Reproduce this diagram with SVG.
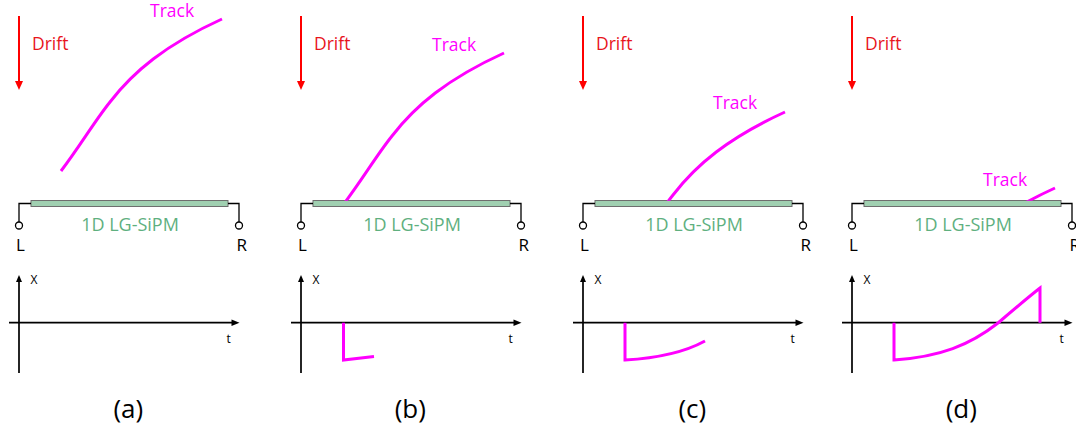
<svg xmlns="http://www.w3.org/2000/svg" width="1076" height="430" viewBox="0 0 1076 430">
<style>
text{font-family:"Open Sans","Liberation Sans",sans-serif}
.dl{stroke:#ff0000;stroke-width:2;fill:none}
.dh{fill:#ff0000}
.dt{font-size:17.5px;fill:#e8141b}
.tt{font-size:17.5px;fill:#ff00ff}
.bar{fill:#a0d0b1;stroke:#6e6e6e;stroke-width:1}
.wire{fill:none;stroke:#000;stroke-width:1.3}
.term{fill:#fff;stroke:#000;stroke-width:1.3}
.sipm{font-size:18px;fill:#5fb07f;text-anchor:middle}
.lr{font-size:17px;fill:#000}
.ax{stroke:#000;stroke-width:1.7;fill:none}
.ah{fill:#000}
.al{font-size:12px;fill:#000}
.cap{font-size:26px;fill:#000;text-anchor:middle}
.trk{fill:none;stroke:#ff00ff;stroke-width:3;stroke-linecap:butt}
.sig{fill:none;stroke:#ff00ff;stroke-width:3;stroke-linejoin:miter}
</style>
<defs>
<clipPath id="above"><rect x="0" y="0" width="1076" height="200.8"/></clipPath>
<path id="trackShape" d="M61,171 C80,146 94,122 110,102 C133,72 165,45 222,19"/>
</defs>
<g id="panel-a">
<line class="dl" x1="19" y1="16" x2="19" y2="82"/><polygon class="dh" points="15,81 23,81 19,90"/>
<text class="dt" x="32" y="50">Drift</text>
<rect class="bar" x="31" y="200.5" width="197" height="6"/>
<path class="wire" d="M31,203.5H19V222M228,203.5H239V222"/>
<circle class="term" cx="19" cy="225.5" r="3.5"/><circle class="term" cx="239" cy="225.5" r="3.5"/>
<text class="sipm" x="130" y="230.5">1D LG-SiPM</text>
<text class="lr" x="16" y="250.5">L</text><text class="lr" x="236.5" y="250.5">R</text>
<path class="ax" d="M19,373V280M9,322.7H233"/>
<polygon class="ah" points="16,282 22,282 19,275"/><polygon class="ah" points="231.5,319.5 231.5,326 239.5,322.7"/>
<text class="al" x="30.5" y="284">X</text><text class="al" x="226.5" y="342.5">t</text>
<text class="cap" x="128.3" y="418">(a)</text>
</g>
<g id="panel-b" transform="translate(282,0)">
<line class="dl" x1="19" y1="16" x2="19" y2="82"/><polygon class="dh" points="15,81 23,81 19,90"/>
<text class="dt" x="32" y="50">Drift</text>
<rect class="bar" x="31" y="200.5" width="197" height="6"/>
<path class="wire" d="M31,203.5H19V222M228,203.5H239V222"/>
<circle class="term" cx="19" cy="225.5" r="3.5"/><circle class="term" cx="239" cy="225.5" r="3.5"/>
<text class="sipm" x="130" y="230.5">1D LG-SiPM</text>
<text class="lr" x="16" y="250.5">L</text><text class="lr" x="236.5" y="250.5">R</text>
<path class="ax" d="M19,373V280M9,322.7H233"/>
<polygon class="ah" points="16,282 22,282 19,275"/><polygon class="ah" points="231.5,319.5 231.5,326 239.5,322.7"/>
<text class="al" x="30.5" y="284">X</text><text class="al" x="226.5" y="342.5">t</text>
<text class="cap" x="128.3" y="418">(b)</text>
</g>
<g id="panel-c" transform="translate(564,0)">
<line class="dl" x1="19" y1="16" x2="19" y2="82"/><polygon class="dh" points="15,81 23,81 19,90"/>
<text class="dt" x="32" y="50">Drift</text>
<rect class="bar" x="31" y="200.5" width="197" height="6"/>
<path class="wire" d="M31,203.5H19V222M228,203.5H239V222"/>
<circle class="term" cx="19" cy="225.5" r="3.5"/><circle class="term" cx="239" cy="225.5" r="3.5"/>
<text class="sipm" x="130" y="230.5">1D LG-SiPM</text>
<text class="lr" x="16" y="250.5">L</text><text class="lr" x="236.5" y="250.5">R</text>
<path class="ax" d="M19,373V280M9,322.7H233"/>
<polygon class="ah" points="16,282 22,282 19,275"/><polygon class="ah" points="231.5,319.5 231.5,326 239.5,322.7"/>
<text class="al" x="30.5" y="284">X</text><text class="al" x="226.5" y="342.5">t</text>
<text class="cap" x="128.3" y="418">(c)</text>
</g>
<g id="panel-d" transform="translate(833,0)">
<line class="dl" x1="19" y1="16" x2="19" y2="82"/><polygon class="dh" points="15,81 23,81 19,90"/>
<text class="dt" x="32" y="50">Drift</text>
<rect class="bar" x="31" y="200.5" width="197" height="6"/>
<path class="wire" d="M31,203.5H19V222M228,203.5H239V222"/>
<circle class="term" cx="19" cy="225.5" r="3.5"/><circle class="term" cx="239" cy="225.5" r="3.5"/>
<text class="sipm" x="130" y="230.5">1D LG-SiPM</text>
<text class="lr" x="16" y="250.5">L</text><text class="lr" x="236.5" y="250.5">R</text>
<path class="ax" d="M19,373V280M9,322.7H233"/>
<polygon class="ah" points="16,282 22,282 19,275"/><polygon class="ah" points="231.5,319.5 231.5,326 239.5,322.7"/>
<text class="al" x="30.5" y="284">X</text><text class="al" x="226.5" y="342.5">t</text>
<text class="cap" x="128.3" y="418">(d)</text>
</g>
<g id="tracks">
<g id="track-a"><use href="#trackShape" class="trk"/><text class="tt" x="150" y="17">Track</text></g>
<g id="track-b"><g clip-path="url(#above)"><use href="#trackShape" class="trk" transform="translate(282,34)"/></g><text class="tt" x="432" y="51">Track</text></g>
<g id="track-c"><g clip-path="url(#above)"><use href="#trackShape" class="trk" transform="translate(563,93)"/></g><text class="tt" x="713" y="109">Track</text></g>
<g id="track-d"><g clip-path="url(#above)"><use href="#trackShape" class="trk" transform="translate(833,169)"/></g><text class="tt" x="983" y="186">Track</text></g>
</g>
<g id="signals">
<path class="sig" d="M343.5,322.7V360L374,356.5"/>
<path class="sig" d="M625,322.7V360C660,358 685,352 705,341"/>
<path class="sig" d="M894,322.7V360C940,357 970,345 998,323C1012,311 1026,299 1040,288V322.7"/>
</g>
</svg>
